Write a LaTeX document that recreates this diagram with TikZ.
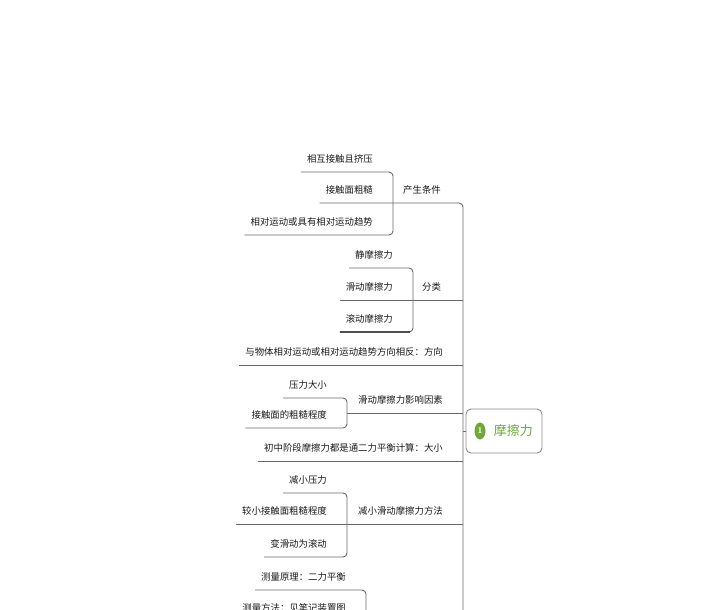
\documentclass[tikz,border=0pt]{standalone}
\usepackage{fontspec}
\newfontfamily\cjkfont{Noto Sans CJK SC}
\usetikzlibrary{shapes.geometric, positioning}
\definecolor{linegray}{RGB}{105,105,105}
\definecolor{markgray}{RGB}{80,80,80}
\definecolor{textgray}{RGB}{25,25,25}
\definecolor{boxgray}{RGB}{140,140,140}
\definecolor{leafgreen}{RGB}{112,168,58}
\tikzstyle{topic} = [inner xsep=6pt,
			inner ysep=9pt,
			text depth=0pt,
			font=\cjkfont\fontsize{9.4}{11}\selectfont,
			text=textgray]
\tikzstyle{child} = [topic, anchor=south east]
\tikzstyle{parent} = [topic, anchor=south west]
\tikzstyle{link} = [draw=linegray, line width=0.9pt, rounded corners=4pt]
\tikzstyle{root} = [rectangle,
			draw=boxgray,
			line width=0.9pt,
			rounded corners=5pt,
			minimum width=76pt,
			minimum height=44pt]
\tikzstyle{icon} = [ellipse,
			fill=leafgreen,
			minimum width=11pt,
			minimum height=17pt,
			inner sep=0pt,
			text=white,
			font=\bfseries\fontsize{9}{9}\selectfont]

\begin{document}
\begin{tikzpicture}[x=1pt, y=-1pt]
	\path[use as bounding box, clip] (0,0) rectangle (701,610);
	\coordinate (spinetop) at (463,203);
	\coordinate (spineend) at (463,640);
	\coordinate (b1) at (393,203);
	\coordinate (b2) at (413,300);
	\coordinate (b4) at (347,413);
	\coordinate (b6) at (347,524);
	\coordinate (b7) at (366,590);
	% root
	\node [root] (friction) at (504,431) {};
	\node [icon] (prio) at (480,431) {1};
	\node [right=8pt of prio, inner sep=0pt, text=leafgreen,
		font=\cjkfont\fontsize{13}{15}\selectfont] (title) {摩擦力};
	% 产生条件
	\node [child] (contact) at (379,172) {相互接触且挤压};
	\node [child] (rough) at (379,203) {接触面粗糙};
	\node [child] (motion) at (379,235) {相对运动或具有相对运动趋势};
	\node [parent] (cond) at (397,203) {产生条件};
	% 分类
	\node [child] (static) at (399,268) {静摩擦力};
	\node [child] (sliding) at (399,300) {滑动摩擦力};
	\node [child] (rolling) at (399,332) {滚动摩擦力};
	\node [parent] (kinds) at (416,300) {分类};
	% 方向
	\node [child] (dir) at (449,365) {与物体相对运动或相对运动趋势方向相反：方向};
	% 影响因素
	\node [child] (press) at (333,398) {压力大小};
	\node [child] (surf) at (333,428) {接触面的粗糙程度};
	\node [parent] (factors) at (352,413) {滑动摩擦力影响因素};
	% 大小
	\node [child] (size) at (449,461) {初中阶段摩擦力都是通二力平衡计算：大小};
	% 方法
	\node [child] (less) at (333,493) {减小压力};
	\node [child] (smooth) at (333,524) {较小接触面粗糙程度};
	\node [child] (roll) at (333,557) {变滑动为滚动};
	\node [parent] (ways) at (352,524) {减小滑动摩擦力方法};
	% 测量
	\node [child] (principle) at (352,590) {测量原理：二力平衡};
	\node [child] (method) at (352,621) {测量方法：见笔记装置图};

	\draw [link] (rough.south west) -- (spinetop) -- (spineend);
	\draw [link] (contact.south west) -- (contact.south west -| b1) |- (motion.south west);
	\draw [link] (static.south west) -- (static.south west -| b2) |- (rolling.south west);
	\draw [link] (sliding.south west) -- (sliding.south west -| spinetop);
	\draw [line width=2.6pt, draw=markgray] (rolling.south west) -- ([xshift=-3pt]rolling.south west -| b2);
	\draw [link] (dir.south west) -- (dir.south west -| spinetop);
	\draw [link] (press.south west) -- (press.south west -| b4) |- (surf.south west);
	\draw [link] (b4) -- (b4 -| spinetop);
	\draw [link] (size.south west) -- (size.south west -| spinetop);
	\draw [link] (less.south west) -- (less.south west -| b6) |- (roll.south west);
	\draw [link] (smooth.south west) -- (smooth.south west -| spinetop);
	\draw [link] (principle.south west) -- (principle.south west -| b7) |- (method.south west);
	\draw [link] (friction.west -| spinetop) -- (friction.west);
\end{tikzpicture}
\end{document}
